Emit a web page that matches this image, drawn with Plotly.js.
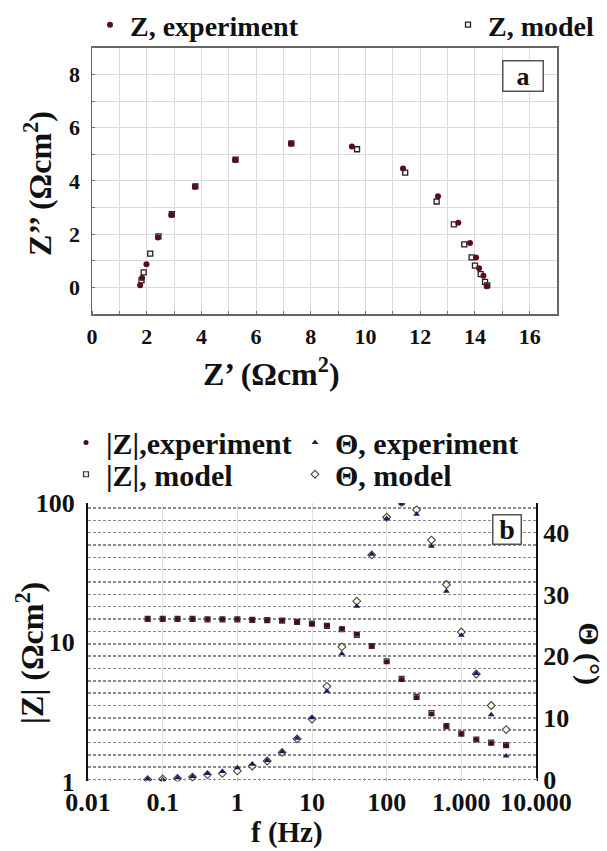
<!DOCTYPE html>
<html>
<head>
<meta charset="utf-8">
<script src="https://cdn.plot.ly/plotly-3.0.1.min.js"></script>
<style>html,body{margin:0;padding:0;background:#fff;}#chart{width:607px;height:851px;}</style>
</head>
<body>
<div id="chart"></div>
<script>
// ---- Nyquist (panel a) ----
const nyqExpRe = [1.76, 1.83, 1.99, 2.41, 2.90, 3.76, 5.23, 7.27, 9.50, 11.37, 12.65, 13.39, 13.82, 14.04, 14.15, 14.31, 14.43];
const nyqExpIm = [0.09, 0.36, 0.87, 1.88, 2.72, 3.78, 4.79, 5.40, 5.29, 4.47, 3.43, 2.43, 1.67, 1.13, 0.72, 0.44, 0.05];
const nyqModRe = [1.81, 1.89, 2.13, 2.43, 2.92, 3.78, 5.25, 7.29, 9.69, 11.45, 12.60, 13.23, 13.61, 13.88, 14.00, 14.21, 14.37, 14.45];
const nyqModIm = [0.27, 0.57, 1.27, 1.92, 2.75, 3.80, 4.80, 5.41, 5.19, 4.31, 3.23, 2.37, 1.62, 1.13, 0.82, 0.50, 0.21, 0.08];

// ---- Bode (panel b) ----
const freq  = [0.063, 0.1, 0.158, 0.251, 0.398, 0.631, 1, 1.585, 2.512, 3.981, 6.31, 10, 15.85, 25.12, 39.81, 63.1, 100, 158.5, 251.2, 398.1, 631, 1000, 1585, 2512, 3981];
const zExp  = [14.7, 14.7, 14.7, 14.7, 14.6, 14.6, 14.6, 14.5, 14.4, 14.3, 14.0, 13.6, 13.2, 12.5, 11.4, 9.4, 7.25, 5.4, 4.0, 3.05, 2.5, 2.2, 2.0, 1.88, 1.81];
const zMod  = [14.7, 14.7, 14.7, 14.7, 14.6, 14.6, 14.6, 14.5, 14.4, 14.3, 14.0, 13.6, 13.1, 12.4, 11.3, 9.4, 7.3, 5.45, 4.05, 3.1, 2.5, 2.2, 2.0, 1.9, 1.82];
const thExp = [0.1, 0.0, 0.3, 0.5, 1.0, 1.3, 1.9, 2.5, 3.1, 4.5, 6.7, 10.0, 14.3, 20.4, 28.1, 36.5, 42.3, 44.7, 43.0, 37.8, 30.5, 23.4, 17.2, 10.5, 3.8];
const thMod = [0.0, 0.1, 0.2, 0.4, 0.8, 1.0, 1.4, 2.2, 3.0, 4.4, 6.6, 9.8, 15.1, 21.5, 28.9, 36.4, 42.5, 44.9, 43.7, 38.8, 31.6, 23.9, 17.1, 12.0, 8.1];

// ---- tick labels ----
const nyqXTicks = [0, 2, 4, 6, 8, 10, 12, 14, 16];
const nyqXText  = ['0','2','4','6','8','10','12','14','16'];
const nyqYTicks = [0, 2, 4, 6, 8];
const nyqYText  = ['0','2','4','6','8'];
const fTicks = [0.01, 0.1, 1, 10, 100, 1000, 10000];
const fText  = ['0.01','0.1','1','10','100','1.000','10.000'];
const zTicks = [1, 10, 100];
const zText  = ['1','10','100'];
const thTicks = [0, 10, 20, 30, 40];
const thText  = ['0','10','20','30','40'];

const SERIF = '"Liberation Serif", "Times New Roman", Times, serif';
const W = 607, H = 851;
const px = x => x / W;
const py = y => 1 - y / H;

const traces = [
  {x: nyqModRe, y: nyqModIm, xaxis: 'x', yaxis: 'y', mode: 'markers', name: 'Z, model', legend: 'legend2',
   marker: {symbol: 'square', size: 5, color: '#f4f4f4', line: {width: 1.3, color: '#222'}}},
  {x: nyqExpRe, y: nyqExpIm, xaxis: 'x', yaxis: 'y', mode: 'markers', name: 'Z, experiment', legend: 'legend',
   marker: {symbol: 'circle', size: 6, color: '#5a0c18', line: {width: 0}}},
  {x: freq, y: zMod, xaxis: 'x2', yaxis: 'y2', mode: 'markers', name: '|Z|, model', legend: 'legend5',
   marker: {symbol: 'square', size: 5, color: '#e6f4ec', line: {width: 1.2, color: '#333'}}},
  {x: freq, y: thMod, xaxis: 'x2', yaxis: 'y3', mode: 'markers', name: 'Θ, model', legend: 'legend6',
   marker: {symbol: 'diamond', size: 6, color: '#fffbe8', line: {width: 1.1, color: '#444'}}},
  {x: freq, y: zExp, xaxis: 'x2', yaxis: 'y2', mode: 'markers', name: '|Z|,experiment', legend: 'legend3',
   marker: {symbol: 'circle', size: 5, color: '#4a0a14', line: {width: 0}}},
  {x: freq, y: thExp, xaxis: 'x2', yaxis: 'y3', mode: 'markers', name: 'Θ, experiment', legend: 'legend4',
   marker: {symbol: 'triangle-up', size: 6, color: '#1a1a5e', line: {width: 0}}}
];

function leg(x, y, size) {
  return {x: px(x), y: py(y), xanchor: 'left', yanchor: 'middle', bgcolor: 'rgba(0,0,0,0)', borderwidth: 0,
          font: {family: SERIF, size: size, weight: 'bold', color: '#111'}};
}

const tickFontTop = {family: SERIF, size: 22, weight: 'bold', color: '#111'};
const tickFontBot = {family: SERIF, size: 26, weight: 'bold', color: '#111'};
const titleFont = {family: SERIF, size: 32, weight: 'bold', color: '#111'};

const layout = {
  width: W, height: H,
  margin: {l: 0, r: 0, t: 0, b: 0},
  paper_bgcolor: '#fff', plot_bgcolor: '#fff',
  font: {family: SERIF},
  showlegend: true,
  legend: leg(90, 20, 28),
  legend2: leg(448, 20, 28),
  legend3: leg(66, 440, 30),
  legend4: leg(295, 440, 30),
  legend5: leg(66, 472, 30),
  legend6: leg(295, 472, 30),
  xaxis: {domain: [px(92), px(557)], anchor: 'y', range: [0, 17], tickmode: 'array', tickvals: nyqXTicks, ticktext: nyqXText,
          showgrid: true, gridcolor: '#dadada', gridwidth: 1, zeroline: false, showline: true, mirror: true,
          linecolor: '#666', linewidth: 1.5, ticks: '', tickfont: tickFontTop, ticklabelstandoff: 2,
          minor: {dtick: 1, showgrid: true, gridcolor: '#dadada', gridwidth: 1, ticks: 'inside', ticklen: 3, tickcolor: '#777'}},
  yaxis: {domain: [py(311), py(43)], anchor: 'x', range: [-1, 9], tickmode: 'array', tickvals: nyqYTicks, ticktext: nyqYText,
          showgrid: true, gridcolor: '#dadada', gridwidth: 1, zeroline: false, showline: true, mirror: true,
          linecolor: '#666', linewidth: 1.5, ticks: '', tickfont: tickFontTop, ticklabelstandoff: 6,
          minor: {dtick: 1, showgrid: true, gridcolor: '#dadada', gridwidth: 1, ticks: 'inside', ticklen: 3, tickcolor: '#777'}},
  xaxis2: {domain: [px(88), px(536)], anchor: 'y2', type: 'log', range: [-2, 4], tickmode: 'array', tickvals: fTicks, ticktext: fText,
           showgrid: true, gridcolor: '#e0e0e0', gridwidth: 1, zeroline: false, showline: false, ticks: '',
           tickfont: tickFontBot, ticklabelstandoff: 3,
           minor: {ticks: 'inside', ticklen: 3, tickcolor: '#aaa', showgrid: false}},
  yaxis2: {domain: [py(781), py(501)], anchor: 'x2', type: 'log', range: [0, 2], tickmode: 'array', tickvals: zTicks, ticktext: zText,
           showgrid: false, zeroline: false, showline: true, linecolor: '#111', linewidth: 2, ticks: '',
           tickfont: tickFontBot, ticklabelstandoff: 6},
  yaxis3: {overlaying: 'y2', anchor: 'x2', side: 'right', range: [-0.3, 44.8], tickmode: 'array', tickvals: thTicks, ticktext: thText,
           showgrid: true, gridcolor: '#8a8a8a', gridwidth: 1.5, griddash: '3px,2px', zeroline: false,
           showline: true, linecolor: '#111', linewidth: 2, ticks: '', tickfont: tickFontBot, ticklabelstandoff: 0,
           minor: {dtick: 2, showgrid: true, gridcolor: '#8a8a8a', gridwidth: 1.5, griddash: '3px,2px', ticks: ''}},
  annotations: [
    {xref: 'paper', yref: 'paper', x: px(522.5), y: py(71.5), text: 'a', showarrow: false,
     font: {family: SERIF, size: 26, weight: 'bold', color: '#111'}, bgcolor: '#fff', bordercolor: '#555', borderwidth: 1.5,
     borderpad: 1, width: 37, height: 27, xanchor: 'center', yanchor: 'middle'},
    {xref: 'paper', yref: 'paper', x: px(506.5), y: py(528), text: 'b', showarrow: false,
     font: {family: SERIF, size: 28, weight: 'bold', color: '#111'}, bgcolor: '#fff', bordercolor: '#555', borderwidth: 1.5,
     borderpad: 1, width: 25, height: 26, xanchor: 'center', yanchor: 'middle'},
    {xref: 'paper', yref: 'paper', x: px(271), y: py(369), text: 'Z’ (Ωcm<sup>2</sup>)', showarrow: false,
     font: titleFont, xanchor: 'center', yanchor: 'middle'},
    {xref: 'paper', yref: 'paper', x: px(38), y: py(180), text: 'Z’’ (Ωcm<sup>2</sup>)', showarrow: false, textangle: -90,
     font: titleFont, xanchor: 'center', yanchor: 'middle'},
    {xref: 'paper', yref: 'paper', x: px(287), y: 0, text: 'f (Hz)', showarrow: false,
     font: {family: SERIF, size: 29, weight: 'bold', color: '#111'}, xanchor: 'center', yanchor: 'bottom'},
    {xref: 'paper', yref: 'paper', x: px(30), y: py(652), text: '|Z| (Ωcm<sup>2</sup>)', showarrow: false, textangle: -90,
     font: titleFont, xanchor: 'center', yanchor: 'middle'},
    {xref: 'paper', yref: 'paper', x: px(589), y: py(652), text: 'Θ (°)', showarrow: false, textangle: 90,
     font: {family: SERIF, size: 30, weight: 'bold', color: '#111'}, xanchor: 'center', yanchor: 'middle'}
  ]
};

Plotly.newPlot('chart', traces, layout, {displayModeBar: false, staticPlot: true});
</script>
</body>
</html>
